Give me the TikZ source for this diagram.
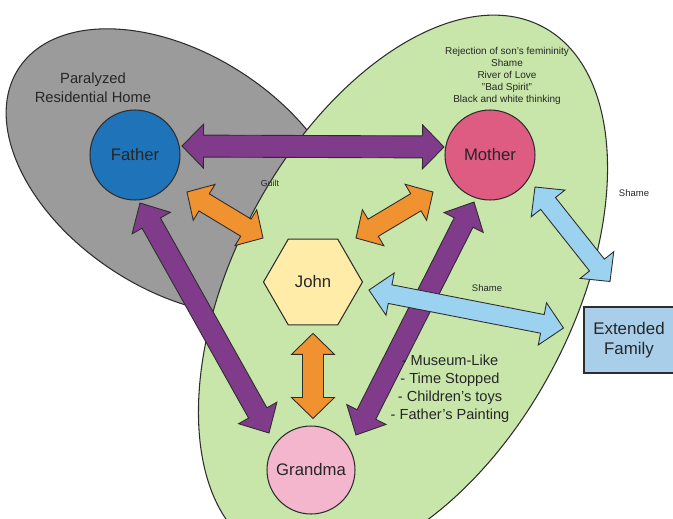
\documentclass[tikz,border=0pt]{standalone}
\usepackage{fontspec}
\setmainfont{Liberation Sans}
\usetikzlibrary{calc,shapes.geometric}

\definecolor{grayzone}{RGB}{155,155,155}
\definecolor{greenzone}{RGB}{200,230,170}
\definecolor{fatherblue}{RGB}{30,115,185}
\definecolor{motherpink}{RGB}{222,92,130}
\definecolor{grandmapink}{RGB}{243,182,205}
\definecolor{johnyellow}{RGB}{255,236,168}
\definecolor{familyblue}{RGB}{168,206,234}
\definecolor{purplearrow}{RGB}{128,60,138}
\definecolor{orangearrow}{RGB}{240,146,48}
\definecolor{bluearrow}{RGB}{155,210,240}
\definecolor{edge}{RGB}{45,45,45}

\pgfdeclarelayer{zones}
\pgfdeclarelayer{links}
\pgfsetlayers{zones,links,main}

\tikzset{
  zone/.style={draw=edge, line width=0.6pt},
  person/.style={circle, draw=edge, line width=0.6pt, minimum size=1.8cm, inner sep=0pt,
    text=black!85, font=\fontsize{9.5}{11}\selectfont},
  child/.style={regular polygon, regular polygon sides=6, draw=edge, line width=0.6pt,
    fill=johnyellow, minimum size=1.98cm, inner sep=0pt, text=black!85,
    font=\fontsize{9.5}{11}\selectfont},
  kin/.style={rectangle, draw=edge, line width=0.6pt, fill=familyblue, minimum width=1.8cm,
    minimum height=1.32cm, align=center, text=black!85, font=\fontsize{9.6}{11.4}\selectfont},
  note/.style={align=center, text=black!85, inner sep=0pt},
  fat/.style={draw=edge, line width=0.5pt},
}

% double headed block arrow: fill, tip, tip, shaft half width, head half width, head length
\newcommand{\dblarrow}[6]{%
  \path (#2) coordinate (tipA) (#3) coordinate (tipB);
  \path ($(tipA)!#6!(tipB)$) coordinate (baseA) ($(tipB)!#6!(tipA)$) coordinate (baseB);
  \filldraw[fat, fill=#1] (tipA) -- ($(baseA)!#5!90:(tipB)$) -- ($(baseA)!#4!90:(tipB)$)
    -- ($(baseB)!#4!-90:(tipA)$) -- ($(baseB)!#5!-90:(tipA)$) -- (tipB)
    -- ($(baseB)!#5!90:(tipA)$) -- ($(baseB)!#4!90:(tipA)$)
    -- ($(baseA)!#4!-90:(tipB)$) -- ($(baseA)!#5!-90:(tipB)$) -- cycle;
}

\begin{document}
\begin{tikzpicture}[x=0.02cm, y=-0.02cm]
  \useasboundingbox (0,0) rectangle (673,518);
  \clip (0,0) rectangle (673,518);

  \node[person, fill=fatherblue] (father) at (135,155) {Father};
  \node[person, fill=motherpink] (mother) at (490,155) {Mother};
  \node[person, fill=grandmapink, minimum size=1.76cm] (grandma) at (311,470) {Grandma};
  \node[child] (john) at (313,282) {John};
  \node[kin] (family) at (629,340) {Extended\\Family};

  \node[note, font=\fontsize{8.4}{10.8}\selectfont] (home) at (93,88) {Paralyzed\\Residential Home};
  \node[note, font=\fontsize{5.7}{6.85}\selectfont] (traits) at (507,76)
    {Rejection of son's femininity\\Shame\\River of Love\\"Bad Spirit"\\Black and white thinking};
  \node[note, font=\fontsize{8.3}{10.2}\selectfont] (house) at (450,389)
    {- Museum-Like\\- Time Stopped\\- Children's toys\\- Father's Painting};
  \node[note, font=\fontsize{5}{6}\selectfont] (guilt) at (270,183) {Guilt};
  \node[note, font=\fontsize{5.4}{6}\selectfont] (shame1) at (634,193) {Shame};
  \node[note, font=\fontsize{5.4}{6}\selectfont] (shame2) at (487,288) {Shame};

  \begin{pgfonlayer}{zones}
    \filldraw[zone, fill=grayzone, rotate around={-33:(178,172)}] (178,172) ellipse [x radius=190, y radius=118];
    \filldraw[zone, fill=greenzone, rotate around={62:(403,290)}] (403,290) ellipse [x radius=298, y radius=169];
  \end{pgfonlayer}

  \begin{pgfonlayer}{links}
    \dblarrow{purplearrow}{$(father)+(47,-9)$}{$(mother)+(-46,-8)$}{0.22cm}{0.44cm}{0.43cm}
    \dblarrow{purplearrow}{$(father)+(5,48)$}{$(grandma)+(-42,-37)$}{0.21cm}{0.44cm}{0.46cm}
    \dblarrow{purplearrow}{$(mother)+(-16,47)$}{$(grandma)+(45,-35)$}{0.21cm}{0.44cm}{0.46cm}
    \dblarrow{orangearrow}{$(father)+(52,37)$}{$(john)+(-50,-44)$}{0.2cm}{0.42cm}{0.4cm}
    \dblarrow{orangearrow}{$(mother)+(-57,37)$}{$(john)+(43,-44)$}{0.2cm}{0.42cm}{0.4cm}
    \dblarrow{orangearrow}{$(john.south)+(0,8)$}{$(grandma.north)+(2,-7)$}{0.21cm}{0.43cm}{0.42cm}
    \dblarrow{bluearrow}{$(john)+(56,8)$}{$(family.west)+(-20,-12)$}{0.19cm}{0.43cm}{0.43cm}
    \dblarrow{bluearrow}{$(mother)+(45,32)$}{$(family.north)+(-19,-25)$}{0.19cm}{0.43cm}{0.42cm}
  \end{pgfonlayer}
  %\draw[red] (father) -- (mother);
\end{tikzpicture}
\end{document}
